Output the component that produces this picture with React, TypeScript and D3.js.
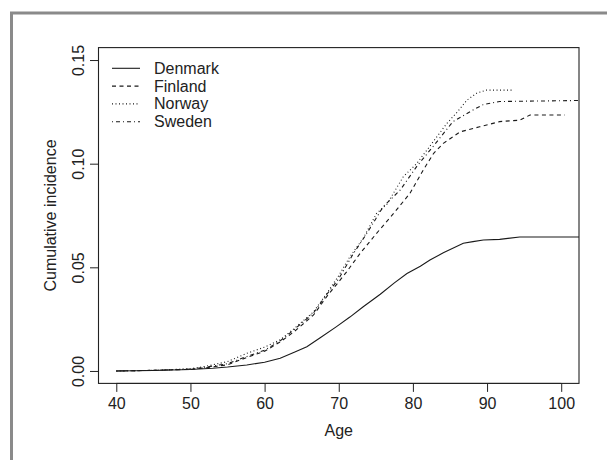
import React, { useEffect, useRef } from "react";
import * as d3 from "d3";

const countries = ["Denmark", "Finland", "Norway", "Sweden"];
const dashes = [null, "4,3.5", "1,2.5", "1,3,4,3"];

const denmarkAge = [40, 45, 50, 53, 55, 57.6, 60, 62.1, 64, 65.7, 67.5, 69.7, 71.5, 73.3, 75.6, 77.5, 79.2, 81, 82.3, 84.1, 86.8, 88.1, 89.5, 91.7, 94.4, 103];
const denmarkCI = [0, 0.0002, 0.0007, 0.0013, 0.0019, 0.0029, 0.0042, 0.0061, 0.009, 0.0117, 0.016, 0.0214, 0.026, 0.031, 0.037, 0.0425, 0.047, 0.0505, 0.0535, 0.057, 0.0616, 0.0624, 0.0632, 0.0635, 0.0646, 0.0646];

const finlandAge = [40, 45, 50, 52, 55, 57.6, 60, 62.1, 64, 66.6, 68.4, 70, 71.1, 72.9, 75.1, 77.4, 79.6, 81.4, 82.8, 84.1, 86.4, 89, 91.7, 94.4, 95.8, 100.5];
const finlandCI = [0, 0.0003, 0.0008, 0.0015, 0.003, 0.0065, 0.0095, 0.014, 0.019, 0.027, 0.036, 0.043, 0.048, 0.0568, 0.0664, 0.076, 0.0857, 0.097, 0.105, 0.1098, 0.1154, 0.1178, 0.1203, 0.121, 0.1235, 0.1235];

const norwayAge = [40, 45, 50, 52, 55, 57.6, 60, 62.1, 64, 66.6, 68.4, 70, 71.5, 73.3, 75.1, 76.5, 78.7, 80.5, 81.9, 84.6, 86, 87.3, 88.6, 89.9, 93.5];
const norwayCI = [0, 0.0003, 0.0011, 0.0022, 0.0045, 0.0085, 0.0115, 0.015, 0.0205, 0.0285, 0.0375, 0.046, 0.0551, 0.064, 0.076, 0.0805, 0.0937, 0.1, 0.1066, 0.1195, 0.125, 0.1307, 0.134, 0.1355, 0.1355];

const swedenAge = [40, 45, 50, 52, 55, 57.6, 60, 62.1, 64, 66.6, 68.4, 70, 72, 73.8, 76, 78.3, 80.5, 82.7, 85.4, 88.1, 89.5, 91.7, 103];
const swedenCI = [0, 0.0003, 0.0009, 0.0018, 0.0035, 0.007, 0.01, 0.0145, 0.02, 0.028, 0.037, 0.0445, 0.0568, 0.0664, 0.0793, 0.0873, 0.0986, 0.1082, 0.1203, 0.1259, 0.1285, 0.13, 0.1305];

const xTicks = [40, 50, 60, 70, 80, 90, 100];
const yTicks = [0, 0.05, 0.1, 0.15];

const FONT = "'Liberation Sans', Arial, sans-serif";
const FS = 16;

const App = () => {
	const ref = useRef<SVGSVGElement>(null);
	const W = 607;
	const H = 460;
	const plot = { left: 98.5, right: 579, top: 47.6, bottom: 383.4 };

	useEffect(() => {
		const svg = d3.select(ref.current);
		svg.selectAll("*").remove();

		// R-style ranges: xlim c(40,100), ylim c(0,0.15) with 4% padding
		const x = d3.scaleLinear().domain([37.6, 102.4]).range([plot.left, plot.right]);
		const y = d3.scaleLinear().domain([-0.006, 0.156]).range([plot.bottom, plot.top]);

		// outer grey frame
		svg.append("rect")
			.attr("x", 11.5)
			.attr("y", 13)
			.attr("width", 640)
			.attr("height", 480)
			.attr("fill", "none")
			.attr("stroke", "#8a8a8a")
			.attr("stroke-width", 3);

		svg.append("clipPath")
			.attr("id", "plotclip")
			.append("rect")
			.attr("x", plot.left)
			.attr("y", plot.top)
			.attr("width", plot.right - plot.left)
			.attr("height", plot.bottom - plot.top);

		const series = [
			{ age: denmarkAge, ci: denmarkCI },
			{ age: finlandAge, ci: finlandCI },
			{ age: norwayAge, ci: norwayCI },
			{ age: swedenAge, ci: swedenCI },
		];

		const line = d3
			.line<[number, number]>()
			.x((d) => x(d[0]))
			.y((d) => y(d[1]));

		const g = svg.append("g").attr("clip-path", "url(#plotclip)");
		series.forEach((s, i) => {
			const pts = s.age.map((a, j) => [a, s.ci[j]] as [number, number]);
			g.append("path")
				.datum(pts)
				.attr("d", line)
				.attr("fill", "none")
				.attr("stroke", "#1a1a1a")
				.attr("stroke-width", 1.1)
				.attr("stroke-dasharray", dashes[i]);
		});

		// box
		svg.append("rect")
			.attr("x", plot.left)
			.attr("y", plot.top)
			.attr("width", plot.right - plot.left)
			.attr("height", plot.bottom - plot.top)
			.attr("fill", "none")
			.attr("stroke", "#222")
			.attr("stroke-width", 1.1);

		// x axis
		const xa = svg.append("g")
			.attr("transform", `translate(0, ${plot.bottom})`)
			.call(d3.axisBottom(x).tickValues(xTicks).tickSize(8.5).tickPadding(6).tickFormat(d3.format("d")));
		xa.select(".domain").attr("d", `M${x(40)},0H${x(100)}`).attr("stroke", "#222");
		xa.selectAll("line").attr("stroke", "#222");
		xa.selectAll("text").attr("font-family", FONT).attr("font-size", FS).attr("fill", "#222");

		// y axis, labels parallel to axis
		const ya = svg.append("g")
			.attr("transform", `translate(${plot.left}, 0)`)
			.call(d3.axisLeft(y).tickValues(yTicks).tickSize(8.5).tickFormat(d3.format(".2f")));
		ya.select(".domain").attr("d", `M0,${y(0)}V${y(0.15)}`).attr("stroke", "#222");
		ya.selectAll("line").attr("stroke", "#222");
		ya.selectAll("text")
			.attr("font-family", FONT)
			.attr("font-size", FS)
			.attr("fill", "#222")
			.attr("x", null)
			.attr("dy", null)
			.attr("text-anchor", "middle")
			.attr("transform", "translate(-20, 0) rotate(-90)")
			.attr("dominant-baseline", "central");

		svg.append("text")
			.attr("x", (plot.left + plot.right) / 2)
			.attr("y", 430)
			.attr("text-anchor", "middle")
			.attr("dominant-baseline", "central")
			.attr("font-family", FONT)
			.attr("font-size", FS)
			.attr("fill", "#222")
			.text("Age");

		svg.append("text")
			.attr("transform", `translate(50, ${(plot.top + plot.bottom) / 2}) rotate(-90)`)
			.attr("text-anchor", "middle")
			.attr("dominant-baseline", "central")
			.attr("font-family", FONT)
			.attr("font-size", FS)
			.attr("fill", "#222")
			.text("Cumulative incidence");

		// legend
		const leg = svg.append("g").attr("transform", `translate(112, 68.3)`);
		countries.forEach((c, i) => {
			const row = leg.append("g").attr("transform", `translate(0, ${i * 17.8})`);
			row.append("line")
				.attr("x1", 0)
				.attr("x2", 28)
				.attr("stroke", "#1a1a1a")
				.attr("stroke-width", 1.1)
				.attr("stroke-dasharray", dashes[i]);
			row.append("text")
				.attr("x", 42)
				.attr("dominant-baseline", "central")
				.attr("font-family", FONT)
				.attr("font-size", FS)
				.attr("fill", "#222")
				.text(c);
		});
	}, []);

	return (
		<svg
			ref={ref}
			width={W}
			height={H}
			style={{ position: "absolute", left: 0, top: 0, background: "#fff" }}
		></svg>
	);
};

export default App;
